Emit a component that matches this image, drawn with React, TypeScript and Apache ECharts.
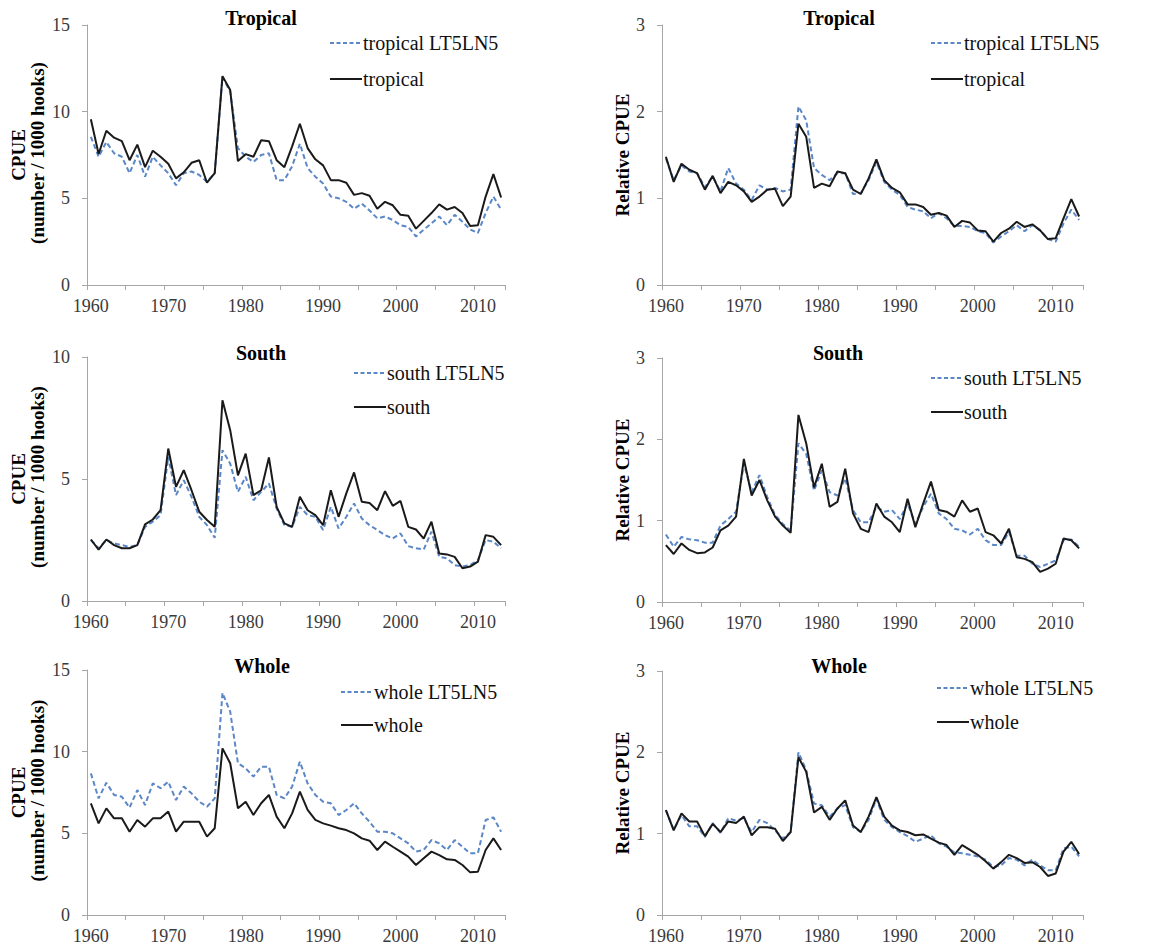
import React, { useEffect, useRef } from "react";
import * as echarts from "echarts";

// Years 1960-2013 on a category axis
const years: string[] = [];
for (let y = 1960; y <= 2013; y++) years.push(String(y));

// CPUE (number / 1000 hooks)
const tropicalLT5LN5 = [8.55, 7.4, 8.25, 7.6, 7.4, 6.45, 7.5, 6.25, 7.4, 6.9, 6.45, 5.75, 6.45, 6.55, 6.35, 5.95, 6.45, 12.0, 11.15, 7.9, 7.4, 7.1, 7.5, 7.6, 6.05, 6.05, 6.85, 8.15, 6.75, 6.25, 5.85, 5.1, 5.0, 4.8, 4.4, 4.7, 4.3, 3.85, 3.95, 3.75, 3.45, 3.35, 2.8, 3.2, 3.55, 3.95, 3.45, 4.05, 3.65, 3.2, 3.0, 4.15, 5.1, 4.35];
const tropical = [9.56, 7.56, 8.9, 8.5, 8.3, 7.2, 8.1, 6.8, 7.75, 7.4, 7.0, 6.15, 6.5, 7.05, 7.2, 5.9, 6.45, 12.05, 11.25, 7.15, 7.55, 7.4, 8.35, 8.3, 7.2, 6.8, 8.0, 9.3, 7.9, 7.25, 6.9, 6.05, 6.05, 5.9, 5.2, 5.3, 5.15, 4.4, 4.8, 4.6, 4.05, 4.0, 3.25, 3.7, 4.15, 4.65, 4.35, 4.5, 4.15, 3.4, 3.45, 5.1, 6.4, 5.05];
const southLT5LN5 = [2.5, 2.16, 2.5, 2.36, 2.29, 2.22, 2.29, 3.04, 3.25, 3.52, 5.91, 4.34, 4.95, 4.27, 3.45, 3.11, 2.59, 6.18, 5.63, 4.47, 5.09, 4.13, 4.47, 4.82, 3.79, 3.11, 3.04, 3.86, 3.52, 3.45, 2.91, 3.86, 2.97, 3.45, 4.0, 3.38, 3.11, 2.91, 2.7, 2.56, 2.77, 2.25, 2.16, 2.11, 2.84, 1.81, 1.75, 1.47, 1.41, 1.47, 1.68, 2.5, 2.43, 2.16];
const south = [2.52, 2.11, 2.52, 2.29, 2.16, 2.16, 2.29, 3.14, 3.34, 3.72, 6.25, 4.68, 5.36, 4.54, 3.66, 3.32, 3.04, 8.23, 7.0, 5.15, 6.04, 4.34, 4.54, 5.88, 3.86, 3.18, 3.04, 4.27, 3.72, 3.52, 3.11, 4.54, 3.45, 4.41, 5.27, 4.07, 4.02, 3.72, 4.5, 3.9, 4.1, 3.04, 2.93, 2.56, 3.25, 1.95, 1.91, 1.81, 1.34, 1.41, 1.61, 2.7, 2.63, 2.29];
const wholeLT5LN5 = [8.67, 7.14, 8.1, 7.35, 7.24, 6.57, 7.65, 6.73, 8.06, 7.76, 8.16, 7.04, 7.86, 7.45, 6.94, 6.63, 7.14, 13.6, 12.45, 9.29, 8.98, 8.47, 9.08, 9.08, 7.35, 7.14, 7.86, 9.39, 8.06, 7.35, 6.94, 6.84, 6.12, 6.43, 6.84, 6.22, 5.71, 5.1, 5.1, 5.0, 4.69, 4.39, 3.88, 3.98, 4.59, 4.39, 3.98, 4.59, 4.18, 3.78, 3.78, 5.82, 5.98, 5.1];
const whole = [6.84, 5.61, 6.53, 5.92, 5.92, 5.1, 5.82, 5.41, 5.92, 5.92, 6.33, 5.1, 5.71, 5.71, 5.71, 4.8, 5.31, 10.2, 9.29, 6.53, 6.94, 6.12, 6.84, 7.35, 6.02, 5.31, 6.22, 7.55, 6.43, 5.82, 5.61, 5.47, 5.31, 5.2, 5.0, 4.69, 4.55, 3.98, 4.49, 4.18, 3.88, 3.57, 3.06, 3.47, 3.88, 3.67, 3.41, 3.37, 3.06, 2.61, 2.65, 3.98, 4.69, 3.98];

// Relative CPUE
const relTropicalLT5LN5 = [1.46, 1.21, 1.38, 1.31, 1.29, 1.13, 1.25, 1.08, 1.35, 1.17, 1.1, 0.98, 1.15, 1.1, 1.12, 1.08, 1.1, 2.06, 1.9, 1.35, 1.27, 1.21, 1.29, 1.29, 1.05, 1.06, 1.21, 1.42, 1.19, 1.1, 1.04, 0.9, 0.87, 0.85, 0.77, 0.83, 0.77, 0.68, 0.68, 0.67, 0.62, 0.6, 0.49, 0.56, 0.62, 0.69, 0.62, 0.69, 0.63, 0.53, 0.5, 0.71, 0.87, 0.75];
const relTropical = [1.48, 1.19, 1.4, 1.33, 1.29, 1.1, 1.26, 1.06, 1.19, 1.15, 1.08, 0.96, 1.02, 1.1, 1.11, 0.91, 1.02, 1.86, 1.71, 1.12, 1.17, 1.14, 1.31, 1.29, 1.1, 1.05, 1.23, 1.45, 1.21, 1.12, 1.07, 0.93, 0.93, 0.9, 0.81, 0.83, 0.8, 0.67, 0.74, 0.72, 0.63, 0.62, 0.5, 0.6, 0.65, 0.73, 0.67, 0.7, 0.63, 0.53, 0.54, 0.77, 0.99, 0.79];
const relSouthLT5LN5 = [0.83, 0.68, 0.8, 0.77, 0.76, 0.73, 0.73, 0.94, 1.02, 1.11, 1.7, 1.35, 1.56, 1.29, 1.07, 0.96, 0.88, 1.95, 1.82, 1.37, 1.62, 1.35, 1.31, 1.52, 1.13, 0.98, 0.98, 1.17, 1.11, 1.13, 1.02, 1.21, 0.96, 1.17, 1.33, 1.09, 1.02, 0.9, 0.88, 0.83, 0.9, 0.76, 0.7, 0.7, 0.86, 0.57, 0.57, 0.47, 0.43, 0.47, 0.51, 0.76, 0.77, 0.68];
const relSouth = [0.7, 0.59, 0.72, 0.64, 0.6, 0.61, 0.67, 0.88, 0.94, 1.05, 1.76, 1.31, 1.5, 1.25, 1.05, 0.94, 0.85, 2.3, 1.95, 1.41, 1.7, 1.17, 1.23, 1.64, 1.09, 0.9, 0.86, 1.21, 1.05, 0.98, 0.86, 1.27, 0.92, 1.21, 1.48, 1.13, 1.11, 1.05, 1.25, 1.11, 1.15, 0.86, 0.82, 0.72, 0.9, 0.55, 0.53, 0.49, 0.37, 0.41, 0.47, 0.78, 0.76, 0.66];
const relWholeLT5LN5 = [1.29, 1.05, 1.23, 1.09, 1.09, 0.96, 1.13, 1.01, 1.19, 1.16, 1.19, 1.02, 1.17, 1.13, 1.04, 0.94, 1.02, 2.0, 1.78, 1.37, 1.35, 1.21, 1.31, 1.35, 1.08, 1.02, 1.17, 1.43, 1.17, 1.08, 1.02, 0.97, 0.9, 0.94, 0.98, 0.88, 0.84, 0.77, 0.76, 0.74, 0.72, 0.68, 0.59, 0.61, 0.7, 0.68, 0.61, 0.68, 0.61, 0.55, 0.55, 0.82, 0.84, 0.72];
const relWhole = [1.29, 1.04, 1.25, 1.15, 1.15, 0.97, 1.12, 1.02, 1.15, 1.13, 1.21, 0.98, 1.08, 1.08, 1.06, 0.91, 1.02, 1.94, 1.76, 1.26, 1.33, 1.17, 1.31, 1.41, 1.1, 1.02, 1.21, 1.45, 1.21, 1.1, 1.04, 1.02, 0.98, 0.99, 0.94, 0.89, 0.86, 0.74, 0.86, 0.8, 0.74, 0.66, 0.57, 0.65, 0.74, 0.7, 0.64, 0.65, 0.59, 0.48, 0.51, 0.78, 0.9, 0.75];

const SERIF = "Liberation Serif";
const DASH_COLOR = "#5b87c6";
const SOLID_COLOR = "#1a1a1a";
const AXIS_COLOR = "#a6a6a6";
const LABEL_COLOR = "#3a3a3a";

type Panel = {
  title: string;
  dashedName: string;
  solidName: string;
  dashed: number[];
  solid: number[];
  max: number;
  interval: number;
  grid: { left: number; top: number; width: number; height: number };
  titleX: number;
  titleY: number;
  legendX: number;
  legendY: number[];
  relative: boolean;
};

const panels: Panel[] = [
  { title: "Tropical", dashedName: "tropical LT5LN5", solidName: "tropical", dashed: tropicalLT5LN5, solid: tropical, max: 15, interval: 5, grid: { left: 87, top: 25, width: 418, height: 260 }, titleX: 261, titleY: 18, legendX: 330, legendY: [43, 79], relative: false },
  { title: "Tropical", dashedName: "tropical LT5LN5", solidName: "tropical", dashed: relTropicalLT5LN5, solid: relTropical, max: 3, interval: 1, grid: { left: 662, top: 25, width: 421, height: 260 }, titleX: 839, titleY: 18, legendX: 931, legendY: [43, 79], relative: true },
  { title: "South", dashedName: "south LT5LN5", solidName: "south", dashed: southLT5LN5, solid: south, max: 10, interval: 5, grid: { left: 87, top: 357, width: 418, height: 244 }, titleX: 261, titleY: 353, legendX: 354, legendY: [373, 407], relative: false },
  { title: "South", dashedName: "south LT5LN5", solidName: "south", dashed: relSouthLT5LN5, solid: relSouth, max: 3, interval: 1, grid: { left: 662, top: 358, width: 421, height: 244 }, titleX: 838, titleY: 353, legendX: 931, legendY: [378, 412], relative: true },
  { title: "Whole", dashedName: "whole LT5LN5", solidName: "whole", dashed: wholeLT5LN5, solid: whole, max: 15, interval: 5, grid: { left: 87, top: 670, width: 418, height: 245 }, titleX: 262, titleY: 666, legendX: 341, legendY: [692, 725], relative: false },
  { title: "Whole", dashedName: "whole LT5LN5", solidName: "whole", dashed: relWholeLT5LN5, solid: relWhole, max: 3, interval: 1, grid: { left: 662, top: 671, width: 421, height: 244 }, titleX: 839, titleY: 666, legendX: 937, legendY: [688, 722], relative: true },
];

function textStyle(text: string, size: number, bold: boolean, extra: any = {}) {
  return {
    text,
    fill: "#000",
    fontFamily: SERIF,
    fontSize: size,
    fontWeight: bold ? "bold" : "normal",
    ...extra,
  };
}

function buildOption() {
  const grids: any[] = [];
  const xAxes: any[] = [];
  const yAxes: any[] = [];
  const series: any[] = [];
  const graphics: any[] = [];

  panels.forEach((p, i) => {
    grids.push({ ...p.grid });
    xAxes.push({
      type: "category",
      gridIndex: i,
      data: years,
      boundaryGap: true,
      axisLine: { lineStyle: { color: AXIS_COLOR, width: 1 } },
      axisTick: { show: true, interval: 4, length: 5, lineStyle: { color: AXIS_COLOR } },
      axisLabel: { interval: 9, color: LABEL_COLOR, fontFamily: SERIF, fontSize: 18, margin: 12 },
      splitLine: { show: false },
    });
    yAxes.push({
      type: "value",
      gridIndex: i,
      min: 0,
      max: p.max,
      interval: p.interval,
      axisLine: { show: true, lineStyle: { color: AXIS_COLOR, width: 1 } },
      axisTick: { show: true, length: 5, lineStyle: { color: AXIS_COLOR } },
      axisLabel: { color: LABEL_COLOR, fontFamily: SERIF, fontSize: 18, margin: 17 },
      splitLine: { show: false },
    });
    series.push({
      name: p.dashedName,
      type: "line",
      xAxisIndex: i,
      yAxisIndex: i,
      data: p.dashed,
      symbol: "none",
      lineStyle: { color: DASH_COLOR, width: 2, type: [5, 3] },
      itemStyle: { color: DASH_COLOR },
      z: 2,
    });
    series.push({
      name: p.solidName,
      type: "line",
      xAxisIndex: i,
      yAxisIndex: i,
      data: p.solid,
      symbol: "none",
      lineStyle: { color: SOLID_COLOR, width: 2 },
      itemStyle: { color: SOLID_COLOR },
      z: 3,
    });

    // panel title
    graphics.push({
      type: "text",
      x: p.titleX,
      y: p.titleY,
      style: textStyle(p.title, 20, true, { align: "center", verticalAlign: "middle" }),
    });

    // legend entries
    const lineLen = 32;
    graphics.push({
      type: "line",
      shape: { x1: p.legendX, y1: p.legendY[0], x2: p.legendX + lineLen, y2: p.legendY[0] },
      style: { stroke: DASH_COLOR, lineWidth: 2, lineDash: [4, 2.5] },
    });
    graphics.push({
      type: "text",
      x: p.legendX + lineLen + 1,
      y: p.legendY[0],
      style: textStyle(p.dashedName, 20, false, { fill: "#111", align: "left", verticalAlign: "middle" }),
    });
    graphics.push({
      type: "line",
      shape: { x1: p.legendX, y1: p.legendY[1], x2: p.legendX + lineLen, y2: p.legendY[1] },
      style: { stroke: SOLID_COLOR, lineWidth: 2 },
    });
    graphics.push({
      type: "text",
      x: p.legendX + lineLen + 1,
      y: p.legendY[1],
      style: textStyle(p.solidName, 20, false, { fill: "#111", align: "left", verticalAlign: "middle" }),
    });

    // y-axis names
    const cy = p.grid.top + p.grid.height / 2;
    if (p.relative) {
      graphics.push({
        type: "text",
        x: p.grid.left - 40,
        y: cy,
        rotation: Math.PI / 2,
        style: textStyle("Relative CPUE", 19, true, { align: "center", verticalAlign: "middle" }),
      });
    } else {
      graphics.push({
        type: "text",
        x: p.grid.left - 69,
        y: cy,
        rotation: Math.PI / 2,
        style: textStyle("CPUE", 19, true, { align: "center", verticalAlign: "middle" }),
      });
      graphics.push({
        type: "text",
        x: p.grid.left - 50,
        y: cy - 2,
        rotation: Math.PI / 2,
        style: textStyle("(number / 1000 hooks)", 19, true, { align: "center", verticalAlign: "middle" }),
      });
    }
  });

  return {
    animation: false,
    backgroundColor: "#ffffff",
    textStyle: { fontFamily: SERIF },
    grid: grids,
    xAxis: xAxes,
    yAxis: yAxes,
    series,
    graphic: graphics,
  };
}

export default function App() {
  const ref = useRef<HTMLDivElement>(null);
  useEffect(() => {
    if (!ref.current) return;
    const chart = echarts.init(ref.current, undefined, { renderer: "svg" });
    chart.setOption(buildOption() as any);
    return () => chart.dispose();
  }, []);
  return (
    <div
      ref={ref}
      style={{ position: "absolute", left: 0, top: 0, width: 1157, height: 951, background: "#fff" }}
    />
  );
}
